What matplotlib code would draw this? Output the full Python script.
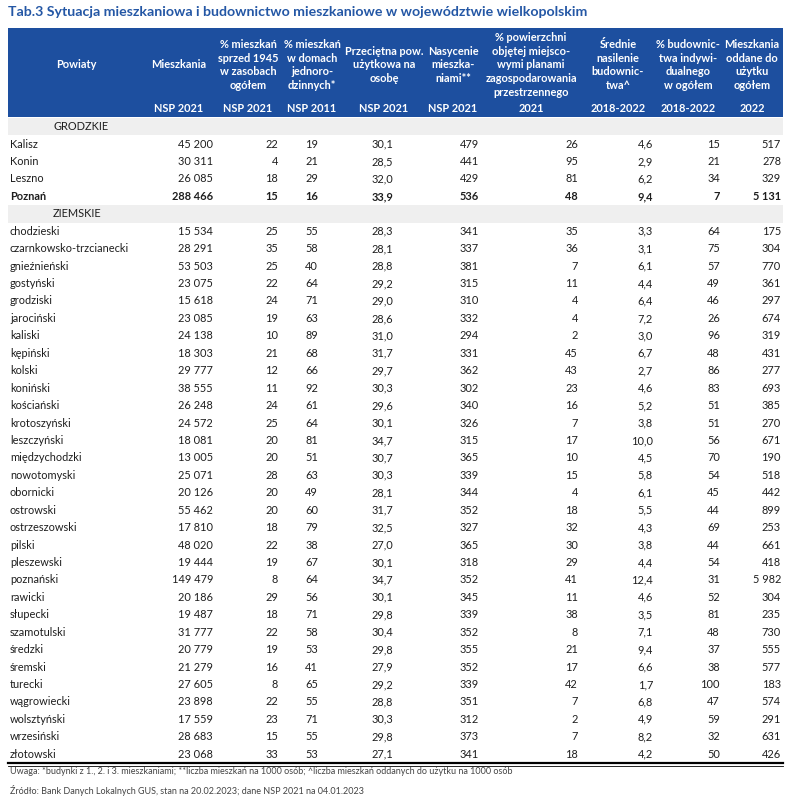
import matplotlib.pyplot as plt
from matplotlib.patches import Rectangle

# ── Data ────────────────────────────────────────────────────
headers = [
    "Powiaty",
    "Mieszkania",
    "% mieszkań\nsprzed 1945\nw zasobach\nogółem",
    "% mieszkań\nw domach\njednoro-\ndzinnych*",
    "Przeciętna pow.\nużytkowa na\nosobę",
    "Nasycenie\nmieszka-\nniami**",
    "% powierzchni\nobjętej miejsco-\nwymi planami\nzagospodarowania\nprzestrzennego",
    "Średnie\nnasilenie\nbudownic-\ntwa^",
    "% budownic-\ntwa indywi-\ndualnego\nw ogółem",
    "Mieszkania\noddane do\nużytku\nogółem",
]
subheaders = ["", "NSP 2021", "NSP 2021", "NSP 2011", "NSP 2021", "NSP 2021",
              "2021", "2018-2022", "2018-2022", "2022"]

grodzkie = ["Kalisz", "Konin", "Leszno", "Poznań"]
ziemskie = [
    "chodzieski", "czarnkowsko-trzcianecki", "gnieźnieński", "gostyński",
    "grodziski", "jarociński", "kaliski", "kępiński", "kolski", "koniński",
    "kościański", "krotoszyński", "leszczyński", "międzychodzki",
    "nowotomyski", "obornicki", "ostrowski", "ostrzeszowski", "pilski",
    "pleszewski", "poznański", "rawicki", "słupecki", "szamotulski",
    "średzki", "śremski", "turecki", "wągrowiecki", "wolsztyński",
    "wrzesiński", "złotowski",
]

mieszkania = [45200, 30311, 26085, 288466,
              15534, 28291, 53503, 23075, 15618, 23085, 24138, 18303, 29777,
              38555, 26248, 24572, 18081, 13005, 25071, 20126, 55462, 17810,
              48020, 19444, 149479, 20186, 19487, 31777, 20779, 21279, 27605,
              23898, 17559, 28683, 23068]
przed_1945 = [22, 4, 18, 15,
              25, 35, 25, 22, 24, 19, 10, 21, 12, 11, 24, 25, 20, 20, 28, 20,
              20, 18, 22, 19, 8, 29, 18, 22, 19, 16, 8, 22, 23, 15, 33]
jednorodzinne = [19, 21, 29, 16,
                 55, 58, 40, 64, 71, 63, 89, 68, 66, 92, 61, 64, 81, 51, 63,
                 49, 60, 79, 38, 67, 64, 56, 71, 58, 53, 41, 65, 55, 71, 55, 53]
pow_na_osobe = [30.1, 28.5, 32.0, 33.9,
                28.3, 28.1, 28.8, 29.2, 29.0, 28.6, 31.0, 31.7, 29.7, 30.3,
                29.6, 30.1, 34.7, 30.7, 30.3, 28.1, 31.7, 32.5, 27.0, 30.1,
                34.7, 30.1, 29.8, 30.4, 29.8, 27.9, 29.2, 28.8, 30.3, 29.8, 27.1]
nasycenie = [479, 441, 429, 536,
             341, 337, 381, 315, 310, 332, 294, 331, 362, 302, 340, 326, 315,
             365, 339, 344, 352, 327, 365, 318, 352, 345, 339, 352, 355, 352,
             339, 351, 312, 373, 341]
plany = [26, 95, 81, 48,
         35, 36, 7, 11, 4, 4, 2, 45, 43, 23, 16, 7, 17, 10, 15, 4, 18, 32, 30,
         29, 41, 11, 38, 8, 21, 17, 42, 7, 2, 7, 18]
nasilenie = [4.6, 2.9, 6.2, 9.4,
             3.3, 3.1, 6.1, 4.4, 6.4, 7.2, 3.0, 6.7, 2.7, 4.6, 5.2, 3.8, 10.0,
             4.5, 5.8, 6.1, 5.5, 4.3, 3.8, 4.4, 12.4, 4.6, 3.5, 7.1, 9.4, 6.6,
             1.7, 6.8, 4.9, 8.2, 4.2]
indywidualne = [15, 21, 34, 7,
                64, 75, 57, 49, 46, 26, 96, 48, 86, 83, 51, 51, 56, 70, 54, 45,
                44, 69, 44, 54, 31, 52, 81, 48, 37, 38, 100, 47, 59, 32, 50]
oddane = [517, 278, 329, 5131,
          175, 304, 770, 361, 297, 674, 319, 431, 277, 693, 385, 270, 671, 190,
          518, 442, 899, 253, 661, 418, 5982, 304, 235, 730, 555, 577, 183, 574,
          291, 631, 426]

bold_rows = ["Poznań"]

title = ("Tab.3 Sytuacja mieszkaniowa i budownictwo mieszkaniowe "
         "w województwie wielkopolskim")
note = ("Uwaga: *budynki z 1., 2. i 3. mieszkaniami; **liczba mieszkań na 1000 osób; "
        "^liczba mieszkań oddanych do użytku na 1000 osób")
source = "Źródło: Bank Danych Lokalnych GUS, stan na 20.02.2023; dane NSP 2021 na 04.01.2023"

# ── Layout (pixels) ─────────────────────────────────────────
W, H = 791, 800
BLUE = "#1d4f9f"
TEXT = "#1e1e1e"
GREY_BAND = "#efefef"
FONT = "Lato"
BODY_FS = 7.9

head_cx = [76, 179, 248, 312, 384, 453, 531, 618, 688, 752]
col_right = [None, 213, 278, 318, 393, 479, 578, 653, 720, 781]
x_left, x_right = 8, 783
row0_y = 126.7
row_h = 17.43


def fmt_int(v):
    return f"{v:,}".replace(",", " ")


def fmt_dec(v):
    return f"{v:.1f}".replace(".", ",")


columns = [
    (mieszkania, fmt_int), (przed_1945, fmt_int), (jednorodzinne, fmt_int),
    (pow_na_osobe, fmt_dec), (nasycenie, fmt_int), (plany, fmt_int),
    (nasilenie, fmt_dec), (indywidualne, fmt_int), (oddane, fmt_int),
]

fig = plt.figure(figsize=(W / 100, H / 100), dpi=100)
ax = fig.add_axes([0, 0, 1, 1])
ax.set_xlim(0, W)
ax.set_ylim(H, 0)
ax.axis("off")

# title
ax.text(8, 12, title, fontsize=10.2, fontweight="bold", color="#2457a5",
        family=FONT, va="center", ha="left")

# header band
ax.add_patch(Rectangle((x_left, 28), x_right - x_left, 89, color=BLUE, lw=0))
for cx, h, sub in zip(head_cx, headers, subheaders):
    ax.text(cx, 65, h, fontsize=7.9, fontweight="bold", color="white",
            family=FONT, ha="center", va="center", linespacing=1.32)
    if sub:
        ax.text(cx, 109, sub, fontsize=7.9, fontweight="bold", color="white",
                family=FONT, ha="center", va="center")

# body rows
rows = [("GRODZKIE", None)] + [(n, i) for i, n in enumerate(grodzkie)]
rows += [("ZIEMSKIE", None)]
rows += [(n, i + len(grodzkie)) for i, n in enumerate(ziemskie)]

for r, (name, idx) in enumerate(rows):
    y = row0_y + r * row_h
    if idx is None:
        ax.add_patch(Rectangle((x_left, y - row_h / 2), x_right - x_left,
                               row_h, color=GREY_BAND, lw=0))
        ax.text(53, y, name, fontsize=BODY_FS, color=TEXT, family=FONT,
                ha="left", va="center")
        continue
    weight = "bold" if name in bold_rows else "normal"
    ax.text(10, y, name, fontsize=BODY_FS, color=TEXT, family=FONT,
            fontweight=weight, ha="left", va="center")
    for xr, (vals, f) in zip(col_right[1:], columns):
        ax.text(xr, y, f(vals[idx]), fontsize=BODY_FS, color=TEXT,
                family=FONT, fontweight=weight, ha="right", va="center")

# closing double rule
y_end = row0_y + (len(rows) - 1) * row_h + row_h / 2
ax.plot([x_left, x_right], [y_end + 0.5, y_end + 0.5], color="black", lw=1.6)
ax.plot([x_left, x_right], [y_end + 2.8, y_end + 2.8], color="black", lw=0.6)

# notes
ax.text(10, 772, note, fontsize=6.5, color="#444444", family=FONT,
        ha="left", va="center")
ax.text(10, 790, source, fontsize=6.5, color="#444444", family=FONT,
        ha="left", va="center")

fig.savefig("out.png", dpi=100)
